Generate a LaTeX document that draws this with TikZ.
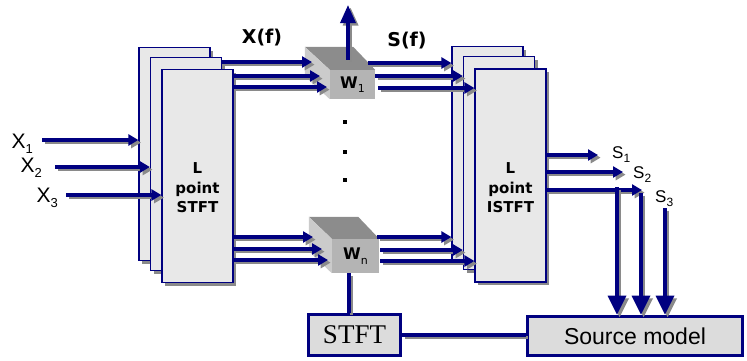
\documentclass[tikz,border=0pt]{standalone}
\usepackage{fontspec}
\setmainfont{Liberation Sans}
\newfontfamily\verdsans{DejaVu Sans}
\newfontfamily\timesface{Liberation Serif}
\usetikzlibrary{arrows.meta, positioning, calc, shadows}
\definecolor{navyline}{HTML}{000080}
\definecolor{shadegray}{HTML}{8A8A8A}
\definecolor{panelfill}{HTML}{E8E8E8}
\definecolor{boxfill}{HTML}{DCDCDC}
\definecolor{wtop}{HTML}{8C8C8C}
\definecolor{wside}{HTML}{CBCBCB}
\definecolor{wfront}{HTML}{B4B4B4}
\newcommand{\lowidx}[2][13]{\raisebox{-0.28em}{\mdseries\fontsize{#1}{#1}\selectfont #2}}
% connector with its grey shadow underneath
\newcommand{\shdraw}[2][arr]{%
  \draw[#1, draw=shadegray, transform canvas={shift={(2.6pt,-2.6pt)}}] #2;
  \draw[#1] #2;}
\tikzset{
  panel/.style={rectangle, draw=navyline, fill=panelfill, line width=1.2pt,
                minimum width=71pt, minimum height=213pt, inner sep=0pt,
                drop shadow={shadow xshift=3pt, shadow yshift=-3pt, opacity=1, fill=shadegray}},
  stacklbl/.style={align=center, font=\verdsans\bfseries\fontsize{15}{19.5}\selectfont},
  wface/.style={rectangle, fill=wfront, inner sep=0pt,
                font=\verdsans\bfseries\fontsize{16}{18}\selectfont},
  endbox/.style={rectangle, draw=navyline, fill=boxfill, line width=3.6pt, inner sep=0pt},
  inlbl/.style={font=\fontsize{21}{23}\selectfont, inner sep=0pt},
  outlbl/.style={font=\fontsize{17}{19}\selectfont, inner sep=0pt},
  hdr/.style={font=\verdsans\bfseries\fontsize{19}{21}\selectfont},
  dotmark/.style={rectangle, fill=black, minimum size=3.4pt, inner sep=0pt},
  arr/.style={line width=3.4pt, draw=navyline, -{Triangle[length=10pt,width=11pt]}},
  bigarr/.style={arr, -{Triangle[length=19pt,width=18pt]}},
  uparr/.style={arr, -{Triangle[length=18pt,width=15pt]}},
  link/.style={line width=3.4pt, draw=navyline},
}

\begin{document}
\begin{tikzpicture}[x=1pt, y=-1pt]
  \useasboundingbox (0,0) rectangle (747,360);

  % STFT bank
  \node[panel] (stftb) at (174.5,154) {};
  \node[panel] (stftm) at (186,164) {};
  \node[panel] (stft) at (197.5,176) {};
  \node[stacklbl] (stfttxt) at (197.5,188) {L\\point\\STFT};

  % ISTFT bank
  \node[panel] (istftb) at (487.5,153) {};
  \node[panel] (istftm) at (499,163) {};
  \node[panel] (istft) at (510.5,175.5) {};
  \node[stacklbl] (istfttxt) at (510.5,188) {L\\point\\ISTFT};

  % weighting boxes
  \node[wface, minimum width=45pt, minimum height=29pt] (w1) at (352.5,84.5) {W\lowidx[11]{1}};
  \fill[wtop] (w1.north west) -- (w1.north east) -- ($(w1.north east)+(-22,-23)$)
    -- ($(w1.north west)+(-25,-23)$) -- cycle;
  \fill[wside] (w1.north west) -- ($(w1.north west)+(-25,-23)$)
    -- ($(w1.south west)+(-25,-23)$) -- (w1.south west) -- cycle;
  \node[wface, minimum width=47pt, minimum height=34pt] (wn) at (355.5,256) {W\lowidx[11]{n}};
  \fill[wtop] (wn.north west) -- (wn.north east) -- ($(wn.north east)+(-21,-22)$)
    -- ($(wn.north west)+(-23,-22)$) -- cycle;
  \fill[wside] (wn.north west) -- ($(wn.north west)+(-23,-22)$)
    -- ($(wn.south west)+(-23,-22)$) -- (wn.south west) -- cycle;

  \node[dotmark] (dot1) at (345,122) {};
  \node[dotmark] (dot2) at (345,152) {};
  \node[dotmark] (dot3) at (345,180) {};

  % bottom boxes
  \node[endbox, minimum width=92pt, minimum height=41pt,
        font=\timesface\fontsize{27}{30}\selectfont] (stftf) at (354.5,335) {STFT};
  \node[endbox, minimum width=215pt, minimum height=39pt,
        font=\fontsize{23}{26}\selectfont] (src) at (635,336) {Source model};

  % Labels
  \node[hdr] (xf) at (262,38) {X(f)};
  \node[hdr] (sf) at (407,41) {S(f)};

  % mixture inputs
  \coordinate (in1) at (42,140);
  \coordinate (in2) at (55,167);
  \coordinate (in3) at (66,195);
  \node[inlbl, anchor=base east] (x1) at ($(in1)+(-9,8)$) {X\lowidx{1}};
  \node[inlbl, anchor=base east] (x2) at ($(in2)+(-13,5)$) {X\lowidx{2}};
  \node[inlbl, anchor=base east] (x3) at ($(in3)+(-8,7)$) {X\lowidx{3}};
  \shdraw{(in1) -- (in1 -| stftb.west)}
  \shdraw{(in2) -- (in2 -| stftm.west)}
  \shdraw{(in3) -- (in3 -| stft.west)}

  % STFT -> W
  \coordinate (a1) at (312,62);
  \coordinate (a2) at (320,76);
  \coordinate (a3) at (327,87);
  \shdraw{(a1 -| stftm.east) -- (a1)}
  \shdraw{(a2 -| stft.east) -- (a2)}
  \shdraw{(a3 -| stft.east) -- (a3)}
  \coordinate (c1) at (313,237);
  \coordinate (c2) at (322,249);
  \coordinate (c3) at (328,260);
  \shdraw{(c1 -| stft.east) -- (c1)}
  \shdraw{(c2 -| stft.east) -- (c2)}
  \shdraw{(c3 -| stft.east) -- (c3)}

  % W -> ISTFT
  \coordinate (b1) at ($(w1.east)+(-7,-21.5)$);
  \coordinate (b2) at ($(w1.east)+(0,-8.5)$);
  \coordinate (b3) at ($(w1.east)+(3,3.5)$);
  \shdraw{(b1) -- (b1 -| istftb.west)}
  \shdraw{(b2) -- (b2 -| istftm.west)}
  \shdraw{(b3) -- (b3 -| istft.west)}
  \coordinate (e1) at ($(wn.east)+(-2,-19)$);
  \coordinate (e2) at ($(wn.east)+(1,-6)$);
  \coordinate (e3) at ($(wn.east)+(1,5)$);
  \shdraw{(e1) -- (e1 -| istftb.west)}
  \shdraw{(e2) -- (e2 -| istftm.west)}
  \shdraw{(e3) -- (e3 -| istft.west)}

  \coordinate (wtopend) at (348,5);
  \shdraw[uparr]{($(w1.north)+(-4.5,-10)$) -- (wtopend)}

  % ISTFT outputs
  \coordinate (o1) at (598,155);
  \coordinate (o2) at (623,172);
  \coordinate (o3) at (642,190);
  \shdraw{(o1 -| istft.east) -- (o1)}
  \shdraw{(o2 -| istft.east) -- (o2)}
  \shdraw{(o3 -| istft.east) -- (o3)}
  \node[outlbl, anchor=base west] (s1) at ($(o1)+(14,3)$) {S\lowidx[12]{1}};
  \node[outlbl, anchor=base west] (s2) at ($(o2)+(10,6)$) {S\lowidx[12]{2}};
  \node[outlbl, anchor=base west] (s3) at ($(o3)+(13,12)$) {S\lowidx[12]{3}};

  % into the source model
  \coordinate (v1) at (617,187);
  \coordinate (v2) at (641,193);
  \coordinate (v3) at (665,208);
  \shdraw[bigarr]{(v1) -- (v1 |- src.north)}
  \shdraw[bigarr]{(v2) -- (v2 |- src.north)}
  \shdraw[bigarr]{(v3) -- (v3 |- src.north)}

  \coordinate (wnfoot) at ($(wn.south)+(-6.5,0)$);
  \shdraw[link]{(wnfoot) -- (wnfoot |- stftf.north)}
  \shdraw[link]{(stftf.east) -- (stftf.east -| src.west)}
\end{tikzpicture}
\end{document}
